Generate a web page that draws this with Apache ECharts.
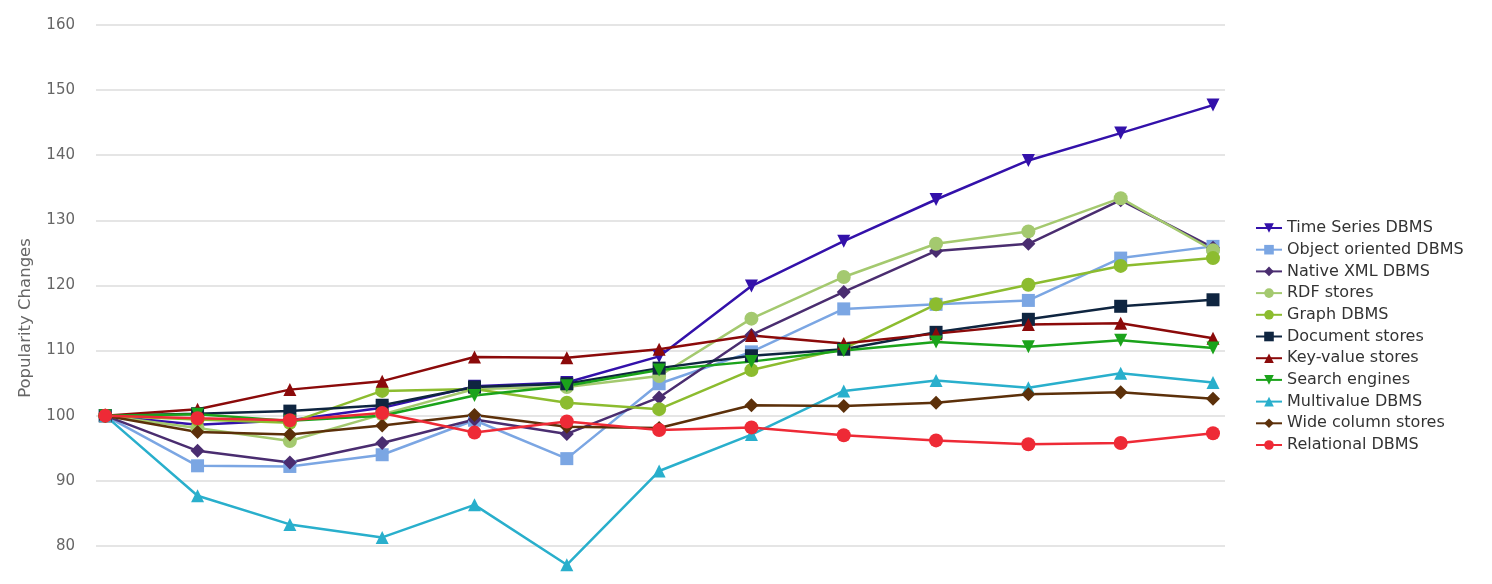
<!DOCTYPE html>
<html><head><meta charset="utf-8">
<script src="https://cdn.jsdelivr.net/npm/echarts@6/dist/echarts.min.js"></script>
<style>html,body{margin:0;padding:0;background:#fff;overflow:hidden}#c{width:1492px;height:611px}</style>
</head><body><div id="c"></div>
<script>
const periods = [0,1,2,3,4,5,6,7,8,9,10,11,12];
const yTicks = [80,90,100,110,120,130,140,150,160];
const timeSeries   = [100,98.6,99.3,101.2,104.5,105.1,109.1,119.9,126.8,133.2,139.2,143.4,147.7];
const objectOriented=[100,92.3,92.2,94.0,99.3,93.4,104.9,109.8,116.4,117.1,117.7,124.2,126.0];
const nativeXml    = [100,94.6,92.8,95.8,99.4,97.2,102.8,112.4,119.0,125.3,126.4,133.1,125.8];
const rdfStores    = [100,98.1,96.1,100.2,104.1,104.4,106.1,114.9,121.3,126.4,128.3,133.4,125.4];
const graphDbms    = [100,99.4,98.9,103.8,104.1,102.0,101.0,107.0,110.3,117.1,120.1,123.0,124.2];
const documentStores=[100,100.3,100.7,101.6,104.4,104.9,107.3,109.2,110.2,112.8,114.8,116.8,117.8];
const keyValue     = [100,101.0,104.0,105.3,109.0,108.9,110.2,112.3,111.1,112.6,114.0,114.2,111.9];
const searchEngines= [100,100.2,99.2,100.0,103.1,104.6,107.0,108.3,110.0,111.3,110.6,111.6,110.4];
const multivalue   = [100,87.7,83.3,81.3,86.3,77.1,91.5,97.1,103.8,105.4,104.3,106.5,105.1];
const wideColumn   = [100,97.5,97.1,98.5,100.1,98.3,98.1,101.6,101.5,102.0,103.3,103.6,102.6];
const relational   = [100,99.6,99.3,100.4,97.4,99.1,97.8,98.2,97.0,96.2,95.6,95.8,97.3];

const seriesDefs = [
  ['Time Series DBMS', timeSeries, '#3311aa', 'triangle', 180, 13],
  ['Object oriented DBMS', objectOriented, '#7ba6e3', 'rect', 0, 13],
  ['Native XML DBMS', nativeXml, '#4a2d70', 'diamond', 0, 14],
  ['RDF stores', rdfStores, '#a4c96f', 'circle', 0, 14],
  ['Graph DBMS', graphDbms, '#8cbc2f', 'circle', 0, 14],
  ['Document stores', documentStores, '#0f2540', 'rect', 0, 13],
  ['Key-value stores', keyValue, '#8b0a0a', 'triangle', 0, 13],
  ['Search engines', searchEngines, '#1ba31b', 'triangle', 180, 13],
  ['Multivalue DBMS', multivalue, '#29afcc', 'triangle', 0, 13],
  ['Wide column stores', wideColumn, '#5c300a', 'diamond', 0, 14],
  ['Relational DBMS', relational, '#ee2a36', 'circle', 0, 14]
];

const FONT = 'DejaVu Sans';
const chart = echarts.init(document.getElementById('c'));
chart.setOption({
  animation: false,
  grid: { left: 96, top: 25, width: 1129, bottom: 0, containLabel: false },
  xAxis: { type: 'value', min: -0.1, max: 12.13, show: false },
  yAxis: {
    type: 'value', min: 70, max: 160, interval: 10,
    name: 'Popularity Changes', nameLocation: 'middle', nameGap: 62,
    nameTextStyle: { color: '#666', fontSize: 16.5, fontFamily: FONT },
    axisLine: { show: false }, axisTick: { show: false },
    axisLabel: { color: '#666', fontSize: 15, margin: 21, fontFamily: FONT,
      formatter: v => yTicks.includes(v) ? String(v) : '' },
    splitLine: { lineStyle: { color: '#dcdcdc', width: 1.5 } }
  },
  legend: {
    orient: 'vertical', left: 1250, top: 215, itemGap: 5.7,
    itemWidth: 26, itemHeight: 12,
    textStyle: { color: '#333', fontSize: 16, fontFamily: FONT },
    data: seriesDefs.map(d => d[0])
  },
  series: seriesDefs.map(d => ({
    name: d[0], type: 'line',
    data: d[1].map((v, i) => [periods[i], v]),
    color: d[2], symbol: d[3], symbolRotate: d[4], symbolSize: d[5],
    showAllSymbol: true,
    lineStyle: { width: 2.5, color: d[2] },
    itemStyle: { color: d[2] }
  }))
});
</script></body></html>
